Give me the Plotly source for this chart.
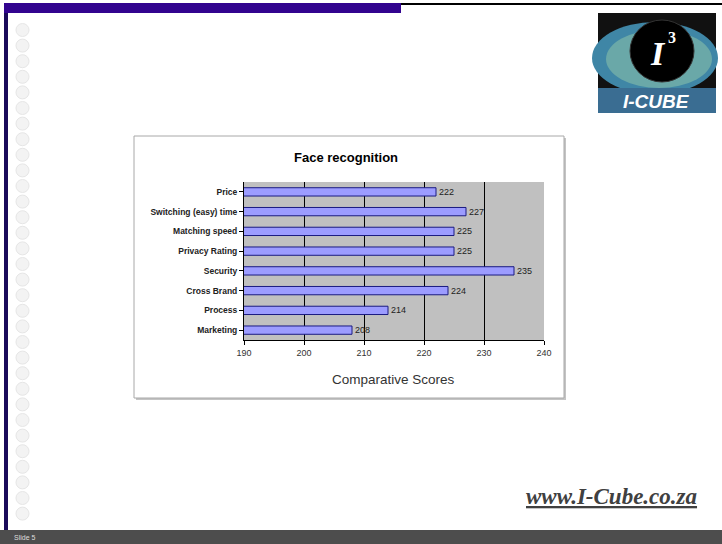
import plotly.graph_objects as go

# ---- data ----
categories = ["Price", "Switching (easy) time", "Matching speed", "Privacy Rating",
              "Security", "Cross Brand", "Process", "Marketing"]
scores = [222, 227, 225, 225, 235, 224, 214, 208]
x_ticks = [190, 200, 210, 220, 230, 240]

W, H = 722, 544
def px(x): return x / W
def py(y): return (H - y) / H

fig = go.Figure()
fig.add_trace(go.Bar(
    y=categories, x=scores, orientation="h",
    marker=dict(color="#9c9cff", line=dict(color="#1a1a80", width=1)),
    text=[str(v) for v in scores], textposition="outside", constraintext="none",
    textfont=dict(size=9, color="#222222", family="Liberation Sans"),
    cliponaxis=False, hoverinfo="skip",
))

def rect(x0, y0, x1, y1, fill, line=None):
    return dict(type="rect", xref="paper", yref="paper", x0=px(x0), x1=px(x1), y0=py(y1), y1=py(y0),
                fillcolor=fill, line=line or dict(width=0), layer="below")

def circ(x0, y0, x1, y1, fill, line=None):
    return dict(type="circle", xref="paper", yref="paper", x0=px(x0), x1=px(x1), y0=py(y1), y1=py(y0),
                fillcolor=fill, line=line or dict(width=0), layer="below")

shapes = []
# slide decorations
shapes.append(rect(4, 3, 8, 530, "#1a0a5a"))
shapes.append(rect(4, 3, 401, 13, "#32048f"))
shapes.append(rect(401, 3, 722, 5, "#000000"))
for i in range(32):
    cy = 30 + i * 15.6
    if cy > 522:
        break
    shapes.append(circ(16, cy - 6.5, 29, cy + 6.5, "#f3f3f3", dict(color="#e6e6e6", width=1)))
shapes.append(rect(0, 530, 722, 544, "#4d4d4d"))
# chart box with shadow
shapes.append(rect(136, 138, 566, 400, "#c4c4c4"))
shapes.append(rect(134, 136, 564, 398, "#ffffff", dict(color="#a8a8a8", width=1)))
# plot area background
shapes.append(rect(244, 182, 544, 340, "#c0c0c0"))
# logo approximation
shapes.append(rect(598, 13, 716, 113, "#111111"))
shapes.append(circ(592, 22, 718, 94, "#3f86a6"))
shapes.append(circ(606, 30, 712, 88, "#6aa8a8"))
shapes.append(circ(630, 20, 694, 82, "#000000", dict(color="#333333", width=1)))
shapes.append(rect(598, 88, 716, 113, "#3a6d92"))

fig.update_layout(
    width=W, height=H, margin=dict(l=0, r=0, t=0, b=0, pad=0), autosize=False,
    paper_bgcolor="#ffffff", plot_bgcolor="#c0c0c0",
    showlegend=False, bargap=0.58,
    font=dict(family="Liberation Sans", color="#000000"),
    shapes=shapes,
    xaxis=dict(domain=[px(244), px(544)], range=[190, 240], tickvals=x_ticks, automargin=False,
               ticks="outside", ticklen=4, tickcolor="#000000",
               showgrid=True, gridcolor="#000000", gridwidth=1,
               showline=True, linecolor="#000000", linewidth=1, mirror=False,
               tickfont=dict(size=9, color="#333333"), zeroline=False),
    yaxis=dict(domain=[py(340), py(182)], autorange="reversed", automargin=False,
               showline=True, linecolor="#000000", linewidth=1,
               ticks="outside", ticklen=4, tickcolor="#000000",
               tickfont=dict(size=8.5, color="#222222"), showgrid=False),
    annotations=[
        dict(text="<b>Face recognition</b>", x=px(346), y=py(157), xref="paper", yref="paper",
             xanchor="center", yanchor="middle",
             showarrow=False, font=dict(size=13, color="#000000")),
        dict(text="Comparative Scores", x=px(393), y=py(379), xref="paper", yref="paper",
             xanchor="center", yanchor="middle",
             showarrow=False, font=dict(size=13.5, color="#333333")),
        dict(text="<b><i><u>www.I-Cube.co.za</u></i></b>", x=px(611), y=py(496), xref="paper", yref="paper",
             xanchor="center", yanchor="middle",
             showarrow=False, font=dict(size=23, color="#404040", family="Liberation Serif")),
        dict(text="Slide 5", x=px(12), y=py(537), xref="paper", yref="paper",
             xanchor="left", yanchor="middle",
             showarrow=False, font=dict(size=7, color="#dddddd")),
        dict(text="<b><i>I</i></b>", x=px(658), y=py(54), xref="paper", yref="paper",
             xanchor="center", yanchor="middle",
             showarrow=False, font=dict(size=34, color="#ffffff", family="Liberation Serif")),
        dict(text="<b>3</b>", x=px(672), y=py(38), xref="paper", yref="paper",
             xanchor="center", yanchor="middle",
             showarrow=False, font=dict(size=16, color="#ffffff", family="Liberation Serif")),
        dict(text="<b><i>I-CUBE</i></b>", x=px(656), y=py(101), xref="paper", yref="paper",
             xanchor="center", yanchor="middle",
             showarrow=False, font=dict(size=19, color="#ffffff", family="Liberation Sans")),
    ],
)
fig.update_yaxes(tickprefix="<b>", ticksuffix="</b>")

fig.write_html("out.html")
